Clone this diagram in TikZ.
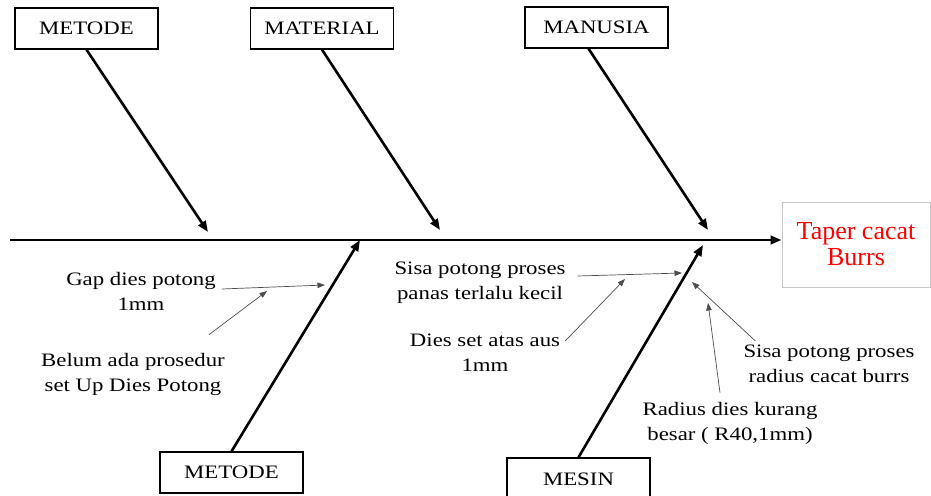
\documentclass[tikz,border=0pt]{standalone}
\usepackage{fontspec}
\setmainfont{Liberation Serif}[FakeStretch=1.2]
\newfontfamily\effectfont{Liberation Serif}
\usetikzlibrary{arrows.meta, positioning}

\begin{document}
\begin{tikzpicture}[
    x=1pt, y=-1pt,
    cause/.style={draw, line width=1.3pt, minimum width=143pt, minimum height=41pt, inner sep=0pt, font=\fontsize{19}{25}\selectfont},
    effectbox/.style={draw=gray!45, line width=0.9pt, minimum width=148pt, minimum height=85pt, align=center, text=red, font=\effectfont\fontsize{26}{26}\selectfont},
    note/.style={align=center, inner sep=2pt, font=\fontsize{19}{25}\selectfont},
    bone/.style={-{Triangle[length=11pt,width=8.5pt]}, line width=2.6pt},
    subarrow/.style={-{Triangle[length=7.5pt,width=5.5pt]}, line width=0.7pt, draw=black!70}
]
\useasboundingbox (0,0) rectangle (931,495);

% Effect
\node (effect) [effectbox] at (856,244.5) {Taper cacat\\Burrs};

% Causes (top)
\node (metodeA) [cause] at (86.5,28.5) {METODE};
\node (material) [cause] at (322,28.5) {MATERIAL};
\node (manusia) [cause] at (596.5,27.5) {MANUSIA};

% Causes (bottom)
\node (metodeB) [cause] at (231.5,472.5) {METODE};
\node (mesin) [cause, minimum height=42pt] at (578.5,479) {MESIN};

% Spine
\coordinate (spine) at (10,240);
\draw [bone] (spine) -- (spine -| effect.west);

% Bones
\coordinate (tipA) at (208,232);
\coordinate (tipB) at (440,230);
\coordinate (tipC) at (708,230);
\coordinate (tipD) at (360,240);
\coordinate (tipE) at (703,245);
\draw [bone] (metodeA.south) -- (tipA);
\draw [bone] (material.south) -- (tipB);
\draw [bone] ([xshift=-8pt]manusia.south) -- (tipC);
\draw [bone] (metodeB.north) -- (tipD);
\draw [bone] (mesin.north) -- (tipE);

% Sub causes
\node (gap) [note] at (141,291) {Gap dies potong\\1mm};
\node (belum) [note] at (133,374) {Belum ada prosedur\\set Up Dies Potong};
\node (sisaA) [note] at (480,283) {Sisa potong proses\\panas terlalu kecil};
\node (dies) [note] at (485,353) {Dies set atas aus\\1mm};
\node (sisaB) [note] at (829,364) {Sisa potong proses\\radius cacat burrs};
\node (radius) [note] at (730,423) {Radius dies kurang\\besar ( R40,1mm)};

\coordinate (gapTip) at (325,285);
\coordinate (belumTip) at (267,291);
\coordinate (sisaATip) at (682,273);
\coordinate (diesTip) at (625,279);
\coordinate (sisaBTip) at (692,282);
\coordinate (radiusTip) at (708,303);
\draw [subarrow] ([xshift=4pt,yshift=2pt]gap.east) -- (gapTip);
\draw [subarrow] ([xshift=-18pt,yshift=16pt]belum.north east) -- (belumTip);
\draw [subarrow] ([xshift=10pt,yshift=7pt]sisaA.east) -- (sisaATip);
\draw [subarrow] ([xshift=3pt,yshift=-9pt]dies.north east) -- (diesTip);
\draw [subarrow] ([xshift=14pt,yshift=2pt]sisaB.north west) -- (sisaBTip);
\draw [subarrow] ([xshift=-10pt,yshift=7pt]radius.north) -- (radiusTip);

\end{tikzpicture}
\end{document}
